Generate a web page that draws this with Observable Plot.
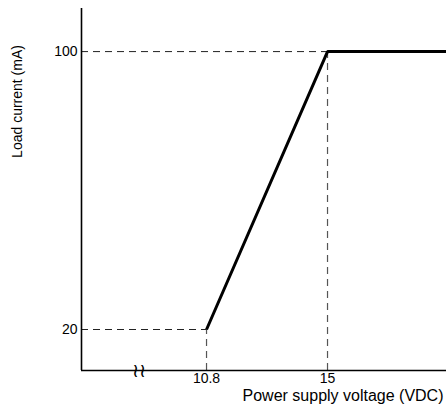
<!DOCTYPE html>
<html>
<head>
<meta charset="utf-8">
<script src="https://cdn.jsdelivr.net/npm/d3@7"></script>
<script src="https://cdn.jsdelivr.net/npm/@observablehq/plot@0.6"></script>
<style>
  html, body { margin: 0; padding: 0; background: #fff; }
  #chart svg { display: block; }
</style>
</head>
<body>
<div id="chart"></div>
<script>
// Data
const voltage = [10.8, 15, 19.13];          // VDC
const current = [20, 100, 100];             // mA
const guideX = [10.8, 15];                  // dashed verticals
const guideY = [20, 100];                   // dashed horizontals
const xTicks = [10.8, 15];
const yTicks = [20, 100];
const xDomain = [6.46, 19.13];
const yDomain = [8.2, 112.4];
const axisBreak = [8.47];
const xLabel = "Power supply voltage (VDC)";
const yLabel = "Load current (mA)";

const line = voltage.map((v, i) => ({v, c: current[i]}));
const guides = guideX.map((gx, i) => ({gx, gy: guideY[i]}));
const font = "'Liberation Sans', Arial, Helvetica, sans-serif";

const chart = Plot.plot({
  width: 446,
  height: 408,
  marginLeft: 81,
  marginRight: 0,
  marginTop: 8,
  marginBottom: 38,
  style: {fontFamily: font, fontSize: "14px", color: "#000", background: "#fff"},
  x: {domain: xDomain, range: [81, 446]},
  y: {domain: yDomain},
  marks: [
    // dashed guide lines
    Plot.ruleY(guides, {y: "gy", x1: xDomain[0], x2: "gx", stroke: "#222", strokeWidth: 1, strokeDasharray: "7,5"}),
    Plot.ruleX(guides, {x: "gx", y1: yDomain[0], y2: "gy", stroke: "#555", strokeWidth: 1.2, strokeDasharray: "7,5"}),
    // axes lines
    Plot.ruleX([xDomain[0]], {y1: yDomain[0], y2: yDomain[1], stroke: "#000", strokeWidth: 1.6}),
    Plot.ruleY([yDomain[0]], {x1: xDomain[0], x2: xDomain[1], stroke: "#000", strokeWidth: 1.6}),
    // break marker
    Plot.text(axisBreak, {x: d => d, y: yDomain[0], text: () => "≀≀", fontSize: 19, fill: "#000"}),
    // main curve
    Plot.line(line, {x: "v", y: "c", stroke: "#000", strokeWidth: 3, strokeLinejoin: "miter", strokeLinecap: "butt"}),
    // tick labels
    Plot.axisX({ticks: xTicks, tickSize: 0, tickPadding: 3, tickFormat: d => String(d), label: null, fontSize: 14}),
    Plot.axisY({ticks: yTicks, tickSize: 0, tickPadding: 4, label: null, fontSize: 14}),
    // axis titles
    Plot.text([xLabel], {frameAnchor: "bottom-right", text: d => d, dy: 30, dx: -3, textAnchor: "end", fontSize: 16, fill: "#000"}),
    Plot.text([yLabel], {frameAnchor: "left", text: d => d, rotate: -90, dx: -64, dy: -88, textAnchor: "middle", fontSize: 14, fill: "#000"})
  ]
});
document.getElementById("chart").appendChild(chart);
</script>
</body>
</html>
